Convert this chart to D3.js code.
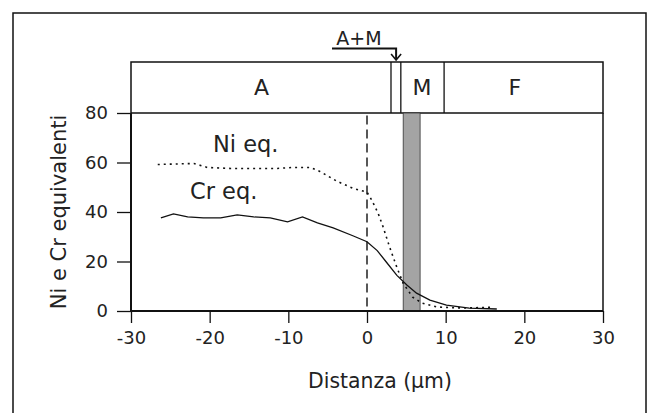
<!DOCTYPE html>
<html><head><meta charset="utf-8">
<script src="https://cdn.jsdelivr.net/npm/d3@7"></script>
<style>body{margin:0;background:#fff}svg{display:block}text{font-family:"DejaVu Sans",sans-serif;fill:#222}</style>
</head><body><svg id="c" width="648" height="413"></svg>
<script>
const xTicks = [-30,-20,-10,0,10,20,30];
const yTicks = [0,20,40,60,80];
const niX = [-26.6,-22,-20.3,-17.3,-14.4,-11.4,-9.4,-7.2,-6,-3.8,-1.8,0,0.6,1.4,2,2.9,3.8,4.6,5.8,7,8.9,12.2,16];
const niY = [59.2,59.6,58,57.6,57.6,57.6,58,58,56.4,52.4,49.6,48,44.8,39.6,34.4,25.6,17.6,11.2,5.6,3.2,1.6,1.2,1.5];
const crX = [-26.2,-24.6,-22.8,-20.8,-18.6,-16.5,-14.4,-12.3,-10.1,-8.2,-6.3,-4.3,-1.8,0,1.3,2.5,3.8,5.1,6.3,8,10.1,13,16.5];
const crY = [37.6,39.2,38,37.6,37.6,38.8,38,37.6,36,38,35.6,33.6,30.4,28,24.4,19.6,14.4,10.4,7.2,4.4,2.4,1.2,0.8];
const phaseNames = ["A","M","F"];
const phaseLabelX = [-13.4,7.0,18.8];
const phaseBounds = [-30,3.05,4.3,9.8,30];
const shade = [4.6,6.75];

const svg = d3.select("#c");
const x = d3.scaleLinear().domain([-30,30]).range([131,603]);
const y = d3.scaleLinear().domain([0,80]).range([311,113]);
const FONT = "'DejaVu Sans',sans-serif";

// outer frame
svg.append("rect").attr("x",13).attr("y",13).attr("width",633).attr("height",430)
  .attr("fill","none").attr("stroke","#111").attr("stroke-width",1.5);

// header band
const hTop = 62, hBot = y(80);
svg.append("rect").attr("x",x(-30)).attr("y",hTop).attr("width",x(30)-x(-30)).attr("height",hBot-hTop)
  .attr("fill","none").attr("stroke","#111").attr("stroke-width",1.5);
phaseBounds.slice(1,-1).forEach(b=>{
  svg.append("line").attr("x1",x(b)).attr("x2",x(b)).attr("y1",hTop).attr("y2",hBot).attr("stroke","#111").attr("stroke-width",1.3);
});
phaseNames.forEach((n,i)=>{
  svg.append("text").attr("x",x(phaseLabelX[i])).attr("y",95)
    .attr("text-anchor","middle").attr("font-size",22).text(n);
});
// A+M label with arrow
const arrowX = x(3.7);
svg.append("text").attr("x",359).attr("y",45).attr("text-anchor","middle").attr("font-size",19).text("A+M");
svg.append("path").attr("d",`M332,48.5H${arrowX}V59`).attr("fill","none").attr("stroke","#111").attr("stroke-width",2);
svg.append("path").attr("d",`M${arrowX-5},54L${arrowX},60L${arrowX+5},54`).attr("fill","none").attr("stroke","#111").attr("stroke-width",1.6);

// plot box right border
svg.append("line").attr("x1",x(30)).attr("x2",x(30)).attr("y1",hBot).attr("y2",y(0)).attr("stroke","#111").attr("stroke-width",1.5);

// shaded band
svg.append("rect").attr("x",x(shade[0])).attr("y",y(80)).attr("width",x(shade[1])-x(shade[0])).attr("height",y(0)-y(80))
  .attr("fill","#a4a4a4").attr("stroke","#333").attr("stroke-width",0.8);

// dashed line at 0
svg.append("line").attr("x1",x(0)).attr("x2",x(0)).attr("y1",y(79)).attr("y2",y(0))
  .attr("stroke","#111").attr("stroke-width",1.4).attr("stroke-dasharray","9,5");

// series
const line = d3.line().x(d=>x(d[0])).y(d=>y(d[1]));
svg.append("path").datum(niX.map((v,i)=>[v,niY[i]])).attr("d",line).attr("fill","none")
  .attr("stroke","#111").attr("stroke-width",1.6).attr("stroke-dasharray","2,4");
svg.append("path").datum(crX.map((v,i)=>[v,crY[i]])).attr("d",line).attr("fill","none")
  .attr("stroke","#111").attr("stroke-width",1.3);

// axes
const fmt = d=>String(d);
const xa = svg.append("g").attr("transform",`translate(0,${y(0)})`)
  .call(d3.axisBottom(x).tickValues(xTicks).tickFormat(fmt).tickSize(12).tickPadding(8));
const ya = svg.append("g").attr("transform",`translate(${x(-30)},0)`)
  .call(d3.axisLeft(y).tickValues(yTicks).tickFormat(fmt).tickSize(14).tickPadding(9));
[xa,ya].forEach(g=>{
  g.select(".domain").attr("stroke","#111").attr("stroke-width",2);
  g.selectAll(".tick line").attr("stroke","#111").attr("stroke-width",1.3);
  g.selectAll("text").attr("font-size",18).attr("font-family",FONT).attr("fill","#222");
});
xa.select(".domain").attr("d",`M${x(-30)},0H${x(30)}`);
ya.select(".domain").attr("d",`M0,${y(0)}V${y(80)}`);

// labels
svg.append("text").attr("x",213).attr("y",152).attr("font-size",22.5).text("Ni eq.");
svg.append("text").attr("x",190).attr("y",199).attr("font-size",22.5).text("Cr eq.");
svg.append("text").attr("x",380).attr("y",388).attr("text-anchor","middle").attr("font-size",20.4).text("Distanza (µm)");
svg.append("text").attr("transform",`translate(66,${y(40)}) rotate(-90)`).attr("text-anchor","middle").attr("font-size",21).text("Ni e Cr equivalenti");
</script></body></html>
